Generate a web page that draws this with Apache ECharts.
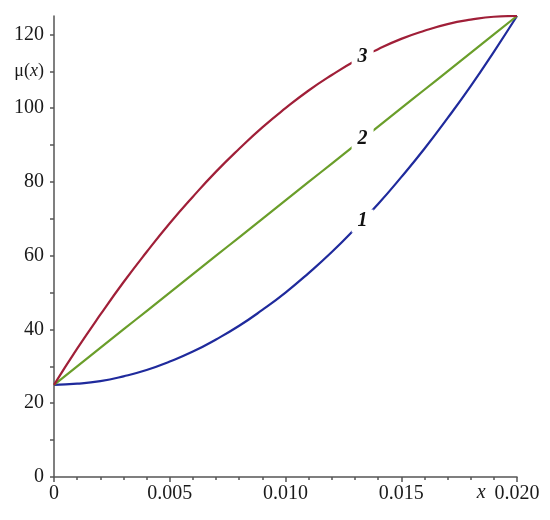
<!DOCTYPE html>
<html>
<head>
<meta charset="utf-8">
<style>html,body{margin:0;padding:0;background:#fff;}#c{width:550px;height:520px;}</style>
<script src="https://cdn.jsdelivr.net/npm/echarts@6/dist/echarts.min.js"></script>
</head>
<body>
<div id="c"></div>
<script>
var xs = [0,0.001,0.002,0.003,0.004,0.005,0.006,0.007,0.008,0.009,0.010,0.011,0.012,0.013,0.014,0.015,0.016,0.017,0.018,0.019,0.020];
var curve1 = [25,25.3,26,27.3,29,31.3,34,37.3,41,45.3,50,55.3,61,67.3,74,81.3,89,97.3,106,115.3,125];
var curve2 = [25,30,35,40,45,50,55,60,65,70,75,80,85,90,95,100,105,110,115,120,125];
var curve3 = [25,34.8,44,52.8,61,68.8,76,82.8,89,94.8,100,104.8,109,112.8,116,118.8,121,122.8,124,124.8,125];
var curveNames = ['1','2','3'];
var curveColors = ['#1f2a9c','#6a9e2a','#a01f38'];
var labelX = [0.01333,0.01333,0.01333];
var labelY = [69.4,91.7,113.9];
var yLabelValues = [0,20,40,60,80,100,120,110];
var yTickValues = [0,10,20,30,40,50,60,70,80,90,100,110,120];

function pairs(ys){ return xs.map(function(x,i){ return [x, ys[i]]; }); }
var curves = [curve1, curve2, curve3];
var axisColor = '#555';
var font = 'Liberation Serif';

var chart = echarts.init(document.getElementById('c'));
var series = curves.map(function(ys, k){
  return {
    type: 'line', name: curveNames[k], data: pairs(ys), smooth: true,
    showSymbol: false, lineStyle: {color: curveColors[k], width: 2.2},
    itemStyle: {color: curveColors[k]}, silent: true, z: 2,
    markPoint: {
      symbol: 'circle', symbolSize: 1, silent: true,
      itemStyle: {color: 'rgba(0,0,0,0)'},
      label: {show: true, position: 'inside', formatter: curveNames[k],
        fontFamily: font, fontStyle: 'italic', fontWeight: 'bold', fontSize: 20,
        color: '#111', backgroundColor: '#fff', padding: [3, 6, 0, 6]},
      data: [{coord: [labelX[k], labelY[k]]}]
    }
  };
});

chart.setOption({
  animation: false,
  backgroundColor: '#fff',
  grid: {left: 54, right: 33, top: 16, bottom: 43},
  xAxis: {
    type: 'value', min: 0, max: 0.02, interval: 0.005,
    axisLine: {lineStyle: {color: axisColor, width: 1.5}},
    axisTick: {show: true, length: 5, lineStyle: {color: axisColor, width: 1.5}},
    minorTick: {show: true, splitNumber: 5, length: 3, lineStyle: {color: axisColor, width: 1.5}},
    splitLine: {show: false},
    axisLabel: {margin: 7, fontFamily: font, fontSize: 20, color: '#1a1a1a',
      formatter: function(v){ return v === 0 ? '0' : v.toFixed(3); }}
  },
  yAxis: {
    type: 'value', min: 0, max: 125, interval: 10,
    axisLine: {lineStyle: {color: axisColor, width: 1.5}},
    axisTick: {show: true, length: 4, customValues: yTickValues, lineStyle: {color: axisColor, width: 1.5}},
    splitLine: {show: false},
    axisLabel: {margin: 10, fontFamily: font, fontSize: 20, color: '#1a1a1a',
      customValues: yLabelValues,
      formatter: function(v){ return v === 110 ? '{m|μ(}{i|x}{m|)}' : String(v); },
      rich: {
        m: {fontFamily: font, fontSize: 18, color: '#1a1a1a'},
        i: {fontFamily: font, fontSize: 18, fontStyle: 'italic', color: '#1a1a1a'}
      }}
  },
  series: series
});

var p = chart.convertToPixel('grid', [0.01845, 0]);
chart.setOption({
  graphic: [{type: 'text', x: p[0], y: p[1] + 16, silent: true,
    style: {text: 'x', fontFamily: font, fontStyle: 'italic', fontSize: 20, fill: '#1a1a1a',
      align: 'center', verticalAlign: 'middle'}}]
});
</script>
</body>
</html>
